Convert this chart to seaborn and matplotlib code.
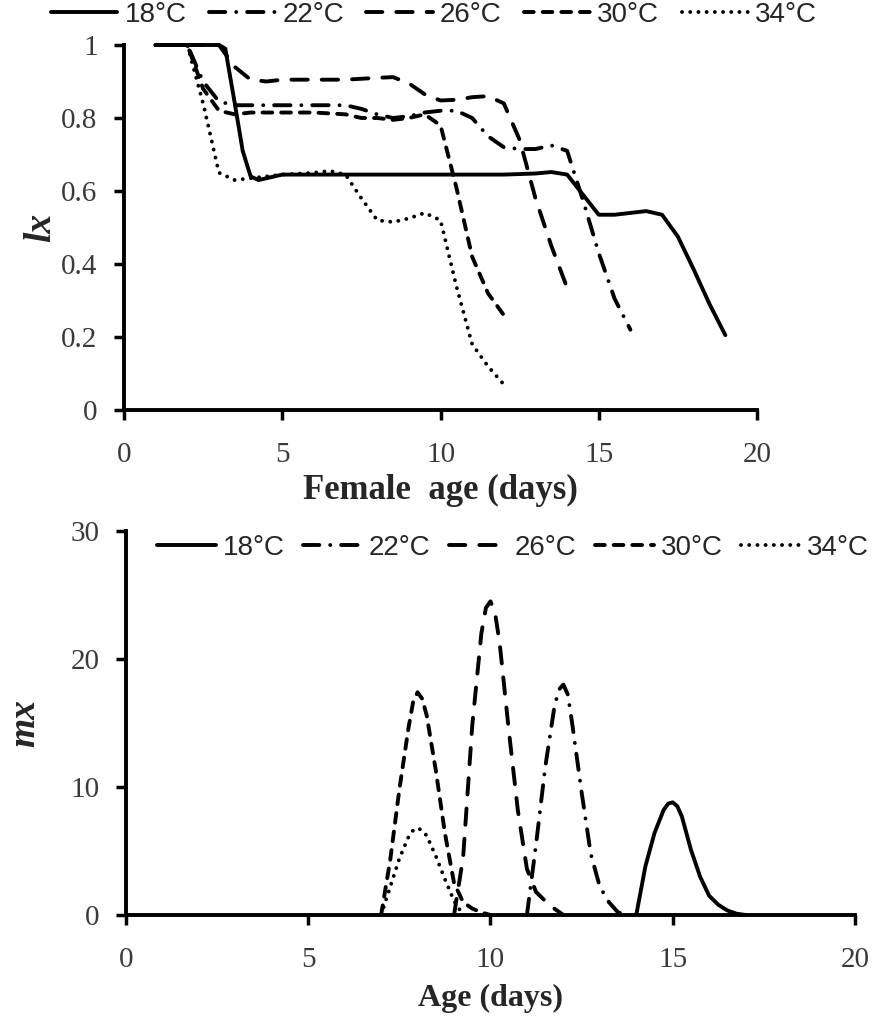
import seaborn as sns
import matplotlib.pyplot as plt

# Supervivencia lx por temperatura
lx_dias_18 = [1, 2, 3, 3.2, 3.5, 3.75, 4, 4.25, 4.5, 5, 6, 7, 8, 9, 10, 11, 12, 13, 13.5, 14, 14.5, 15, 15.5, 16, 16.5, 17, 17.5, 18, 18.5, 19]
lx_18 = [1, 1, 1, 0.99, 0.84, 0.71, 0.64, 0.63, 0.635, 0.645, 0.645, 0.645, 0.645, 0.645, 0.645, 0.645, 0.645, 0.648, 0.652, 0.645, 0.59, 0.535, 0.535, 0.54, 0.545, 0.535, 0.475, 0.385, 0.29, 0.205]

lx_dias_22 = [1, 2, 2.5, 3, 3.5, 4, 5, 6, 7, 7.5, 8, 8.5, 9, 9.5, 10, 10.5, 11, 11.5, 12, 12.5, 13, 13.5, 14, 14.5, 15, 15.5, 16]
lx_22 = [1, 1, 0.9, 0.845, 0.835, 0.835, 0.835, 0.835, 0.835, 0.825, 0.81, 0.80, 0.805, 0.815, 0.82, 0.82, 0.80, 0.75, 0.72, 0.715, 0.715, 0.725, 0.71, 0.575, 0.43, 0.305, 0.22]

lx_dias_26 = [1, 2, 3, 3.5, 4, 4.5, 5, 6, 7, 8, 8.5, 9, 9.5, 10, 10.5, 11, 11.5, 12, 12.5, 13, 13.5, 14]
lx_26 = [1, 1, 1, 0.94, 0.905, 0.90, 0.905, 0.905, 0.905, 0.91, 0.912, 0.895, 0.865, 0.848, 0.85, 0.857, 0.86, 0.84, 0.74, 0.58, 0.45, 0.335]

lx_dias_30 = [1, 2, 2.5, 3, 3.5, 4, 5, 6, 7, 7.5, 8, 8.5, 9, 9.5, 10, 10.5, 11, 11.5, 12]
lx_30 = [1, 1, 0.88, 0.82, 0.81, 0.815, 0.815, 0.815, 0.81, 0.80, 0.80, 0.795, 0.80, 0.81, 0.78, 0.61, 0.42, 0.32, 0.26]

lx_dias_34 = [1, 2, 2.5, 3, 3.5, 4, 5, 6, 6.5, 7, 7.5, 8, 8.5, 9, 9.5, 10, 10.5, 11, 11.5, 12]
lx_34 = [1, 1, 0.84, 0.65, 0.63, 0.635, 0.645, 0.65, 0.655, 0.645, 0.58, 0.52, 0.515, 0.525, 0.54, 0.52, 0.34, 0.18, 0.12, 0.07]

# Fecundidad mx por temperatura
mx_dias_18 = [14, 14.25, 14.5, 14.75, 14.875, 15, 15.125, 15.25, 15.5, 15.75, 16, 16.25, 16.5, 16.75, 17]
mx_18 = [0, 3.8, 6.4, 8.2, 8.7, 8.8, 8.5, 7.7, 5.1, 3.0, 1.5, 0.8, 0.35, 0.1, 0]

mx_dias_22 = [11, 11.25, 11.5, 11.75, 11.875, 12, 12.125, 12.25, 12.5, 12.75, 13, 13.25, 13.5, 13.75]
mx_22 = [0, 5.5, 11.5, 16.2, 17.6, 18, 17.2, 14.8, 9.6, 4.8, 2.2, 1.0, 0.2, 0]

mx_dias_26 = [9, 9.25, 9.5, 9.75, 9.875, 10, 10.125, 10.25, 10.5, 10.75, 11, 11.25, 11.5, 11.75, 12]
mx_26 = [0, 4.5, 14.8, 22.0, 24.0, 24.5, 23.6, 21.3, 14.5, 8.2, 3.6, 1.8, 1.1, 0.5, 0]

mx_dias_30 = [7, 7.25, 7.5, 7.75, 7.875, 8, 8.125, 8.25, 8.5, 8.75, 9, 9.25, 9.5, 9.75, 10]
mx_30 = [0, 4.3, 9.8, 14.6, 16.6, 17.4, 16.9, 15.6, 11.3, 6.4, 2.5, 1.0, 0.5, 0.2, 0]

mx_dias_34 = [7, 7.25, 7.5, 7.75, 7.875, 8, 8.125, 8.25, 8.5, 8.75, 9, 9.25]
mx_34 = [0, 2.2, 4.4, 6.1, 6.6, 6.8, 6.6, 6.2, 4.6, 2.8, 1.1, 0]

temperaturas = ['18°C', '22°C', '26°C', '30°C', '34°C']
x_ticks = [0, 5, 10, 15, 20]
lx_ticks = [0, 0.2, 0.4, 0.6, 0.8, 1]
lx_tick_labels = ['0', '0.2', '0.4', '0.6', '0.8', '1']
mx_ticks = [0, 10, 20, 30]

estilos = {
    '18°C': '-',
    '22°C': (0, (4.2, 2.8, 0.01, 2.8)),
    '26°C': (0, (4.2, 3.6)),
    '30°C': (0, (2.5, 2.3)),
    '34°C': (0, (0.01, 2.1)),
}

sns.set_style('ticks')
plt.rcParams['font.family'] = ['Liberation Serif', 'DejaVu Serif']

fig = plt.figure(figsize=(8.96, 10.18), dpi=100)
ax1 = fig.add_axes([0.1384, 0.5972, 0.7065, 0.3586])
ax2 = fig.add_axes([0.1406, 0.1012, 0.8136, 0.3772])

series_lx = [(lx_dias_18, lx_18), (lx_dias_22, lx_22), (lx_dias_26, lx_26),
             (lx_dias_30, lx_30), (lx_dias_34, lx_34)]
series_mx = [(mx_dias_18, mx_18), (mx_dias_22, mx_22), (mx_dias_26, mx_26),
             (mx_dias_30, mx_30), (mx_dias_34, mx_34)]

for ax, series in [(ax1, series_lx), (ax2, series_mx)]:
    for t, (dias, vals) in zip(temperaturas, series):
        sns.lineplot(x=dias, y=vals, ax=ax, color='black', lw=2.8,
                     linestyle=estilos[t], dash_capstyle='round',
                     solid_capstyle='round', solid_joinstyle='round',
                     label=t, legend=False, clip_on=False)

# Ejes
ax1.set_xlim(0, 20)
ax1.set_ylim(0, 1)
ax1.set_xticks(x_ticks)
ax1.set_yticks(lx_ticks, lx_tick_labels)
ax2.set_xlim(0, 20)
ax2.set_ylim(0, 30)
ax2.set_xticks(x_ticks)
ax2.set_yticks(mx_ticks)

for ax in (ax1, ax2):
    sns.despine(ax=ax)
    for s in ('left', 'bottom'):
        ax.spines[s].set_linewidth(2.8)
        ax.spines[s].set_color('black')
    ax.tick_params(axis='both', direction='out', length=7, width=2.5,
                   color='black', labelsize=21, labelcolor='#3a3a3a')
    ax.tick_params(axis='y', pad=12)
    ax.tick_params(axis='x', pad=16)

ax1.set_xlabel('Female  age (days)', fontsize=25, fontweight='bold', labelpad=4)
ax1.set_ylabel('lx', fontsize=27, fontweight='bold', fontstyle='italic', labelpad=2)
ax2.set_xlabel('Age (days)', fontsize=23, fontweight='bold', labelpad=8)
ax2.set_ylabel('mx', fontsize=27, fontweight='bold', fontstyle='italic', labelpad=20)

# Leyendas
ajustes = [(ax1, 434 / 896, 1 - 15 / 1018, 2.4, 0.8),
           (ax2, 513 / 896, 1 - 548 / 1018, 2.1, 0.68)]
for ax, cx, cy, hl, cs in ajustes:
    handles = ax.get_lines()[:5]
    fig.legend(handles, temperaturas, loc='center', bbox_to_anchor=(cx, cy),
               ncol=5, frameon=False, handlelength=hl, handletextpad=0.25,
               columnspacing=cs, borderpad=0,
               prop={'family': 'Liberation Sans', 'size': 20})

fig.savefig('out.png', dpi=100)
